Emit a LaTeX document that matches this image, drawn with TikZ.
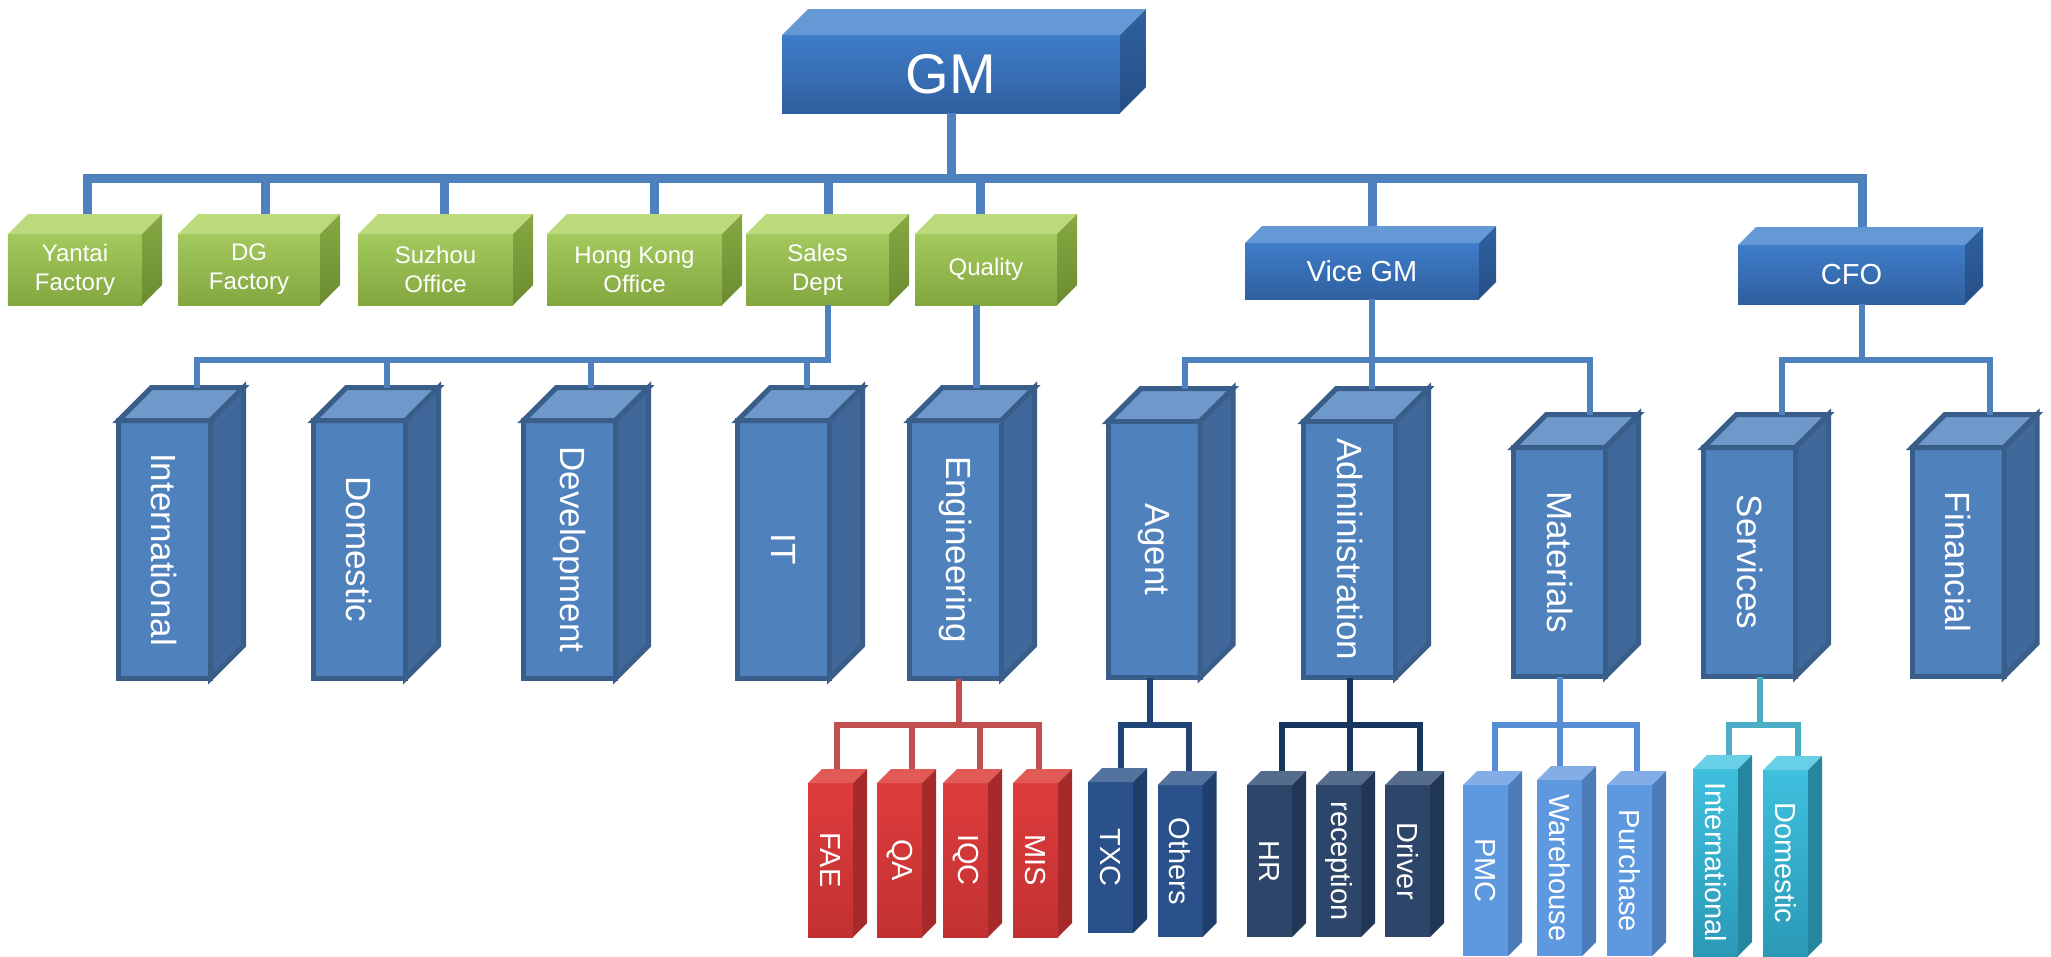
\documentclass[tikz,border=0pt]{standalone}
\usepackage{fontspec}
\setmainfont{Liberation Sans}
\definecolor{gmT}{HTML}{3F7DC9}
\definecolor{gmB}{HTML}{2F5F9E}
\definecolor{gmTop}{HTML}{6499D6}
\definecolor{gmS1}{HTML}{2F62A0}
\definecolor{gmS2}{HTML}{264E86}
\definecolor{grT}{HTML}{A3C95E}
\definecolor{grB}{HTML}{83A73F}
\definecolor{grTop}{HTML}{BBDA7B}
\definecolor{grS1}{HTML}{86A942}
\definecolor{grS2}{HTML}{6B8B31}
\definecolor{lF}{HTML}{4F81BD}
\definecolor{lT}{HTML}{7099CB}
\definecolor{lS}{HTML}{41689B}
\definecolor{lO}{HTML}{3A5E8A}
\definecolor{rT}{HTML}{DE3C3C}
\definecolor{rB}{HTML}{C23131}
\definecolor{rTop}{HTML}{E25A55}
\definecolor{rS}{HTML}{A62A2A}
\definecolor{nF}{HTML}{2A5189}
\definecolor{nT}{HTML}{53729E}
\definecolor{nS}{HTML}{1F3E6B}
\definecolor{dF}{HTML}{2C4568}
\definecolor{dT}{HTML}{566C8C}
\definecolor{dS}{HTML}{223756}
\definecolor{bF}{HTML}{5E99E0}
\definecolor{bT}{HTML}{82ADE6}
\definecolor{bS}{HTML}{4B7BB8}
\definecolor{tT}{HTML}{3FC0DE}
\definecolor{tB}{HTML}{2A99B6}
\definecolor{tTop}{HTML}{67CFE6}
\definecolor{tS}{HTML}{2686A0}
\definecolor{cBlue}{HTML}{4F81BD}
\definecolor{cRed}{HTML}{C0504D}
\definecolor{cNavy}{HTML}{1F4577}
\definecolor{cDark}{HTML}{17365D}
\definecolor{cLight}{HTML}{558ED5}
\definecolor{cTeal}{HTML}{4BACC6}
\newcommand\cubefaces[4]{%
  \path[#3] (#1.north west) -- ++(#2,-#2) -- ([shift={(#2,-#2)}]#1.north east) -- (#1.north east) -- cycle;
  \path[#4] (#1.north east) -- ++(#2,-#2) -- ([shift={(#2,-#2)}]#1.south east) -- (#1.south east) -- cycle;
}
\tikzset{
  base/.style={inner sep=0pt, outer sep=0pt, text=white},
  gmbox/.style={base, top color=gmT, bottom color=gmB},
  gmtop/.style={fill=gmTop},
  gmside/.style={top color=gmS1, bottom color=gmS2},
  grbox/.style={base, top color=grT, bottom color=grB, align=center, minimum height=71bp,
    font=\fontsize{24bp}{29bp}\selectfont},
  grtop/.style={fill=grTop},
  grside/.style={top color=grS1, bottom color=grS2},
  tall/.style={base, fill=lF, draw=lO, line width=5bp, minimum width=92bp,
    font=\fontsize{35bp}{40bp}\selectfont},
  talltop/.style={fill=lT, draw=lO, line width=5bp, line join=miter},
  tallside/.style={fill=lS, draw=lO, line width=5bp, line join=miter},
  small/.style={base, minimum width=45bp, font=\fontsize{29bp}{32bp}\selectfont},
  sred/.style={small, top color=rT, bottom color=rB},
  snavy/.style={small, fill=nF},
  sdark/.style={small, fill=dF},
  slight/.style={small, fill=bF},
  steal/.style={small, top color=tT, bottom color=tB},
  c1/.style={draw=cBlue, line width=9bp, line join=miter},
  c2/.style={draw=cBlue, line width=6bp, line join=miter},
  c3/.style={line width=6bp, line join=miter},
}
\begin{document}
\begin{tikzpicture}[x=1bp,y=-1bp]
\useasboundingbox (0,0) rectangle (2051,957);

% ---------- top level ----------
\node[gmbox, minimum width=338bp, minimum height=78bp, font=\fontsize{56bp}{60bp}\selectfont] (gm) at (951,74) {GM};
\cubefaces{gm}{26}{gmtop}{gmside}

\node[grbox, minimum width=134bp] (yantai) at (75,269.5) {Yantai\\Factory};
\node[grbox, minimum width=142bp] (dg) at (249,269.5) {DG\\Factory};
\node[grbox, minimum width=155bp] (suzhou) at (435.5,269.5) {Suzhou\\Office};
\node[grbox, minimum width=175bp] (hk) at (634.5,269.5) {Hong Kong\\Office};
\node[grbox, minimum width=143bp] (sales) at (817.5,269.5) {Sales\\Dept};
\node[grbox, minimum width=142bp] (quality) at (986,269.5) {Quality};
\foreach \n in {yantai,dg,suzhou,hk,sales,quality}{\cubefaces{\n}{20}{grtop}{grside}}

\node[gmbox, minimum width=234bp, minimum height=56bp, font=\fontsize{29bp}{32bp}\selectfont] (vgm) at (1362,271) {Vice GM};
\cubefaces{vgm}{17}{gmtop}{gmside}
\node[gmbox, minimum width=227bp, minimum height=59bp, font=\fontsize{29bp}{32bp}\selectfont] (cfo) at (1851.5,274.5) {CFO};
\cubefaces{cfo}{18}{gmtop}{gmside}

% ---------- second level ----------
\node[tall, minimum height=258bp] (intl) at (164.5,549.5) {\rotatebox{-90}{International}};
\node[tall, minimum height=258bp] (dom) at (359.5,549.5) {\rotatebox{-90}{Domestic}};
\node[tall, minimum height=258bp] (dev) at (569.5,549.5) {\rotatebox{-90}{Development}};
\node[tall, minimum height=258bp] (it) at (783.5,549.5) {\rotatebox{-90}{IT}};
\node[tall, minimum height=258bp] (eng) at (955.5,549.5) {\rotatebox{-90}{Engineering}};
\node[tall, minimum height=256bp] (agent) at (1154,549.5) {\rotatebox{-90}{Agent}};
\node[tall, minimum height=256bp] (admin) at (1349.5,549.5) {\rotatebox{-90}{Administration}};
\node[tall, minimum height=229bp] (mat) at (1559.5,562) {\rotatebox{-90}{Materials}};
\node[tall, minimum height=229bp] (serv) at (1749.5,562) {\rotatebox{-90}{Services}};
\node[tall, minimum height=229bp] (fin) at (1958,562) {\rotatebox{-90}{Financial}};
\foreach \n in {intl,dom,dev,it,eng,agent,admin,mat,serv,fin}{\cubefaces{\n}{33}{talltop}{tallside}}

% ---------- third level ----------
\node[sred, minimum height=154bp] (fae) at (830.5,860) {\rotatebox{-90}{FAE}};
\node[sred, minimum height=154bp] (qa) at (899.5,860) {\rotatebox{-90}{QA}};
\node[sred, minimum height=154bp] (iqc) at (965.5,860) {\rotatebox{-90}{IQC}};
\node[sred, minimum height=154bp] (mis) at (1035.5,860) {\rotatebox{-90}{MIS}};
\foreach \n in {fae,qa,iqc,mis}{\cubefaces{\n}{14}{fill=rTop}{fill=rS}}

\node[snavy, minimum height=151bp] (txc) at (1110.5,857.5) {\rotatebox{-90}{TXC}};
\node[snavy, minimum height=152bp] (oth) at (1180,861) {\rotatebox{-90}{Others}};
\foreach \n in {txc,oth}{\cubefaces{\n}{14}{fill=nT}{fill=nS}}

\node[sdark, minimum height=152bp] (hr) at (1269.5,861) {\rotatebox{-90}{HR}};
\node[sdark, minimum height=152bp] (rec) at (1338.5,861) {\rotatebox{-90}{reception}};
\node[sdark, minimum height=152bp] (drv) at (1407.5,861) {\rotatebox{-90}{Driver}};
\foreach \n in {hr,rec,drv}{\cubefaces{\n}{14}{fill=dT}{fill=dS}}

\node[slight, minimum height=171bp] (pmc) at (1485.5,870.5) {\rotatebox{-90}{PMC}};
\node[slight, minimum height=176bp] (wh) at (1559.5,868) {\rotatebox{-90}{Warehouse}};
\node[slight, minimum height=171bp] (pur) at (1629.5,870.5) {\rotatebox{-90}{Purchase}};
\foreach \n in {pmc,wh,pur}{\cubefaces{\n}{14}{fill=bT}{fill=bS}}

\node[steal, minimum height=187bp] (intl2) at (1715.5,862.5) {\rotatebox{-90}{International}};
\node[steal, minimum height=186bp] (dom2) at (1785.5,863) {\rotatebox{-90}{Domestic}};
\foreach \n in {intl2,dom2}{\cubefaces{\n}{14}{fill=tTop}{fill=tS}}

% ---------- connector anchors ----------
\coordinate (bus1) at (0,178);
\coordinate (bus2) at (0,360);
\coordinate (bus3) at (0,725);

\coordinate (yantai-t) at ([xshift=12bp,yshift=20bp]yantai.north);
\coordinate (dg-t) at ([xshift=16bp,yshift=20bp]dg.north);
\coordinate (suzhou-t) at ([xshift=8.5bp,yshift=20bp]suzhou.north);
\coordinate (hk-t) at ([xshift=19.5bp,yshift=20bp]hk.north);
\coordinate (sales-t) at ([xshift=10.5bp,yshift=20bp]sales.north);
\coordinate (quality-t) at ([xshift=-6bp,yshift=20bp]quality.north);
\coordinate (vgm-t) at ([xshift=10bp,yshift=17bp]vgm.north);
\coordinate (cfo-t) at ([xshift=10.5bp,yshift=18bp]cfo.north);

\coordinate (sales-b) at ([xshift=10.5bp]sales.south);
\coordinate (vgm-b) at ([xshift=10bp]vgm.south);
\coordinate (cfo-b) at ([xshift=10.5bp]cfo.south);

\coordinate (intl-t) at ([xshift=32.5bp,yshift=33bp]intl.north);
\coordinate (dom-t) at ([xshift=27.5bp,yshift=33bp]dom.north);
\coordinate (dev-t) at ([xshift=21.5bp,yshift=33bp]dev.north);
\coordinate (it-t) at ([xshift=23.5bp,yshift=33bp]it.north);
\coordinate (eng-t) at ([xshift=20.5bp,yshift=33bp]eng.north);
\coordinate (agent-t) at ([xshift=31bp,yshift=33bp]agent.north);
\coordinate (admin-t) at ([xshift=22.5bp,yshift=33bp]admin.north);
\coordinate (mat-t) at ([xshift=30.5bp,yshift=33bp]mat.north);
\coordinate (serv-t) at ([xshift=32.5bp,yshift=33bp]serv.north);
\coordinate (fin-t) at ([xshift=32bp,yshift=33bp]fin.north);

\coordinate (eng-b) at ([xshift=3.5bp]eng.south);
\coordinate (agent-b) at ([xshift=-4bp]agent.south);
\coordinate (admin-b) at ([xshift=0.5bp]admin.south);
\coordinate (mat-b) at ([xshift=0.5bp]mat.south);
\coordinate (serv-b) at ([xshift=10.5bp]serv.south);

\coordinate (fae-t) at ([xshift=6.5bp,yshift=14bp]fae.north);
\coordinate (qa-t) at ([xshift=12.5bp,yshift=14bp]qa.north);
\coordinate (iqc-t) at ([xshift=14.5bp,yshift=14bp]iqc.north);
\coordinate (mis-t) at ([xshift=3.5bp,yshift=14bp]mis.north);
\coordinate (txc-t) at ([xshift=10.5bp,yshift=14bp]txc.north);
\coordinate (oth-t) at ([xshift=9bp,yshift=14bp]oth.north);
\coordinate (hr-t) at ([xshift=12.5bp,yshift=14bp]hr.north);
\coordinate (rec-t) at ([xshift=11.5bp,yshift=14bp]rec.north);
\coordinate (drv-t) at ([xshift=12.5bp,yshift=14bp]drv.north);
\coordinate (pmc-t) at ([xshift=9bp,yshift=14bp]pmc.north);
\coordinate (wh-t) at ([xshift=0.5bp,yshift=14bp]wh.north);
\coordinate (pur-t) at ([xshift=7.5bp,yshift=14bp]pur.north);
\coordinate (intl2-t) at ([xshift=13.5bp,yshift=14bp]intl2.north);
\coordinate (dom2-t) at ([xshift=12.5bp,yshift=14bp]dom2.north);

% ---------- connectors ----------
\foreach \t in {yantai,dg,suzhou,hk,sales,quality,vgm,cfo}{
  \draw[c1] (gm.south) -- (gm.south |- bus1) -| (\t-t);
}
\foreach \t in {intl,dom,dev,it}{
  \draw[c2] (sales-b) -- (sales-b |- bus2) -| (\t-t);
}
\draw[draw=cBlue, line width=7bp] (quality.south -| eng-t) -- (eng-t);
\foreach \t in {agent,admin,mat}{
  \draw[c2] (vgm-b) -- (vgm-b |- bus2) -| (\t-t);
}
\foreach \t in {serv,fin}{
  \draw[c2] (cfo-b) -- (cfo-b |- bus2) -| (\t-t);
}
\foreach \t in {fae,qa,iqc,mis}{
  \draw[c3, draw=cRed] (eng-b) -- (eng-b |- bus3) -| (\t-t);
}
\foreach \t in {txc,oth}{
  \draw[c3, draw=cNavy] (agent-b) -- (agent-b |- bus3) -| (\t-t);
}
\foreach \t in {hr,rec,drv}{
  \draw[c3, draw=cDark] (admin-b) -- (admin-b |- bus3) -| (\t-t);
}
\foreach \t in {pmc,wh,pur}{
  \draw[c3, draw=cLight] (mat-b) -- (mat-b |- bus3) -| (\t-t);
}
\foreach \t in {intl2,dom2}{
  \draw[c3, draw=cTeal] (serv-b) -- (serv-b |- bus3) -| (\t-t);
}
\end{tikzpicture}
\end{document}
